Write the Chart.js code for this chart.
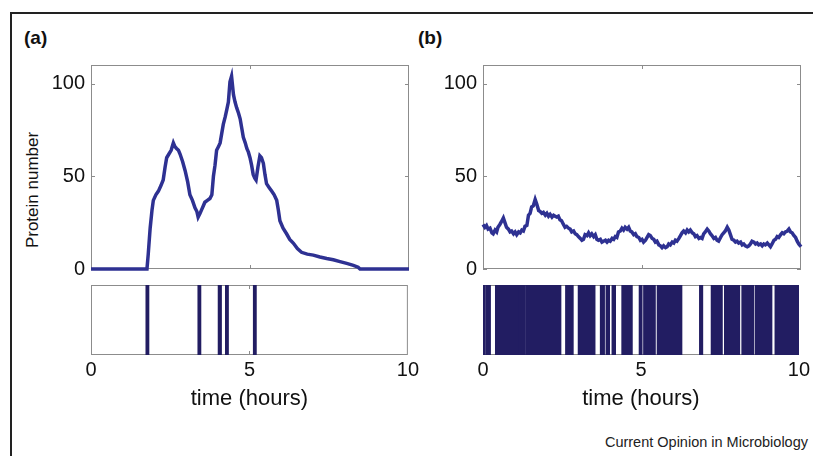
<!DOCTYPE html>
<html>
<head>
<meta charset="utf-8">
<script src="https://cdn.jsdelivr.net/npm/chart.js@4.4.1/dist/chart.umd.min.js"></script>
<style>
  html, body { margin: 0; overflow: hidden; }
  body { background: #fff; font-family: "Liberation Sans", Arial, sans-serif; color: #111; }
  #page { position: relative; width: 813px; height: 456px; overflow: hidden; }
  .rule { position: absolute; background: #222; }
  .panel { position: absolute; top: 27px; font-weight: bold; font-size: 19px; }
  #ylab { position: absolute; left: 33px; top: 190px; font-size: 17px; white-space: nowrap; transform: translate(-50%, -50%) rotate(-90deg); }
  #credit { position: absolute; right: 5px; top: 434px; font-size: 14.5px; color: #222; }
  canvas { position: absolute; }
</style>
</head>
<body>
<div id="page">
  <div class="rule" style="left:10px;top:12px;width:803px;height:1.5px"></div>
  <div class="rule" style="left:10px;top:12px;width:1.5px;height:444px"></div>
  <div class="panel" style="left:24px">(a)</div>
  <div class="panel" style="left:418px">(b)</div>
  <div id="ylab">Protein number</div>
  <canvas id="traceA" width="400" height="244" style="left:20px;top:45px"></canvas>
  <canvas id="traceB" width="400" height="244" style="left:412px;top:45px"></canvas>
  <canvas id="stripA" width="402" height="137" style="left:20px;top:275px"></canvas>
  <canvas id="stripB" width="401" height="137" style="left:412px;top:275px"></canvas>
  <div id="credit">Current Opinion in Microbiology</div>
</div>
<script>
// tick labels
const xTicks = [0, 5, 10];
const yTicks = [0, 50, 100];

// (a) bursty expression: protein number over time (hours)
const aTimes = [0, 1.76, 1.80, 1.86, 1.92, 1.96, 2.04, 2.12, 2.20, 2.27,
  2.33, 2.38, 2.45, 2.52, 2.59, 2.64, 2.69, 2.75, 2.80, 2.88,
  2.96, 3.04, 3.11, 3.19, 3.27, 3.33, 3.37, 3.43, 3.48, 3.53,
  3.58, 3.66, 3.74, 3.80, 3.85, 3.90, 3.95, 4.01, 4.06, 4.11,
  4.16, 4.22, 4.27, 4.32, 4.37, 4.42, 4.48, 4.53, 4.58, 4.64,
  4.69, 4.74, 4.79, 4.85, 4.90, 4.95, 5.00, 5.05, 5.10, 5.15,
  5.19, 5.25, 5.31, 5.36, 5.42, 5.47, 5.52, 5.60, 5.68, 5.76,
  5.84, 5.89, 5.94, 6.04, 6.15, 6.25, 6.36, 6.49, 6.62, 6.80,
  6.99, 7.20, 7.41, 7.62, 7.83, 8.04, 8.25, 8.40, 8.46, 10];
const aCounts = [0, 0, 8, 22, 32, 37, 40, 42, 45, 48,
  55, 60, 62, 64, 68, 66, 65, 64, 62, 58,
  53, 47, 40, 37, 33, 31, 28, 30, 32, 34,
  36, 37, 38, 40, 50, 56, 64, 66, 68, 73,
  78, 82, 86, 90, 101, 104, 94, 90, 87, 84,
  81, 76, 71, 68, 65, 63, 60, 56, 51, 49,
  48, 55, 61, 60, 57, 51, 46, 44, 42, 40,
  37, 32, 26, 22, 19, 16, 14, 11, 9, 8,
  7.5, 6.5, 5.7, 5, 4, 3, 2, 1, 0, 0];
// (a) promoter on-periods [start, end]
const aOnSpans = [[1.73, 1.83], [3.37, 3.47], [4.01, 4.12], [4.24, 4.34], [5.12, 5.22]];

// (b) frequent switching
const bTimes = [0, 0.06, 0.11, 0.16, 0.22, 0.28, 0.32, 0.38, 0.43, 0.47,
  0.53, 0.58, 0.64, 0.69, 0.74, 0.80, 0.85, 0.90, 0.96, 1.01,
  1.06, 1.12, 1.17, 1.22, 1.27, 1.32, 1.38, 1.43, 1.48, 1.53,
  1.58, 1.64, 1.69, 1.75, 1.80, 1.85, 1.90, 1.96, 2.01, 2.06,
  2.11, 2.17, 2.22, 2.27, 2.32, 2.37, 2.42, 2.47, 2.53, 2.58,
  2.63, 2.69, 2.74, 2.79, 2.85, 2.90, 2.95, 3.00, 3.06, 3.11,
  3.16, 3.21, 3.27, 3.32, 3.37, 3.42, 3.48, 3.53, 3.58, 3.63,
  3.69, 3.74, 3.79, 3.85, 3.90, 3.95, 4.00, 4.06, 4.11, 4.16,
  4.21, 4.26, 4.32, 4.37, 4.42, 4.47, 4.53, 4.58, 4.63, 4.68,
  4.74, 4.79, 4.84, 4.90, 4.95, 5.00, 5.05, 5.11, 5.16, 5.21,
  5.26, 5.32, 5.37, 5.42, 5.47, 5.53, 5.58, 5.63, 5.68, 5.74,
  5.79, 5.84, 5.89, 5.95, 6.00, 6.05, 6.10, 6.16, 6.21, 6.26,
  6.31, 6.37, 6.42, 6.47, 6.52, 6.58, 6.63, 6.68, 6.73, 6.79,
  6.84, 6.89, 6.94, 6.99, 7.05, 7.10, 7.15, 7.20, 7.26, 7.31,
  7.36, 7.41, 7.47, 7.52, 7.57, 7.62, 7.68, 7.73, 7.78, 7.83,
  7.89, 7.94, 7.99, 8.04, 8.10, 8.15, 8.20, 8.25, 8.31, 8.36,
  8.41, 8.46, 8.52, 8.57, 8.62, 8.67, 8.73, 8.78, 8.83, 8.88,
  8.94, 8.99, 9.04, 9.09, 9.15, 9.20, 9.25, 9.30, 9.36, 9.41,
  9.46, 9.51, 9.57, 9.62, 9.67, 9.72, 9.78, 9.83, 9.88, 9.93,
  10];
const bCounts = [24, 22.5, 23.5, 21.5, 22, 19.5, 19, 21, 20, 22.5,
  24, 25.5, 27.5, 25, 22.5, 21.5, 20, 20.5, 19, 20,
  18.5, 20, 19.5, 21, 20.5, 23, 23.5, 29, 30, 33.5,
  34, 37.5, 35, 31.5, 31, 30, 30.5, 29, 30, 28.5,
  29.5, 28, 29, 28.5, 28, 28.5, 26.5, 26, 24, 22.5,
  23, 22, 21.5, 20, 20.5, 19, 18.5, 17.5, 16.5, 15.5,
  16, 18.5, 18, 19.5, 18, 19, 17.5, 18.5, 16, 15.5,
  16, 14.5, 15, 15.5, 14.5, 15.5, 15, 16.5, 16, 17.5,
  17, 20, 20.5, 22, 21, 22.5, 21.5, 22.5, 20.5, 20,
  18.5, 19, 17.5, 17, 15.5, 16, 14.5, 15.5, 17, 18.5,
  18, 16.5, 16, 14.5, 15, 13, 12.5, 11.5, 12.5, 11.5,
  12, 13.5, 13, 14.5, 14, 15.5, 15, 16.5, 18, 19.5,
  20.5, 19.5, 21, 20, 21, 19.5, 19, 17.5, 18, 16.5,
  17, 16.5, 19, 20, 21.5, 20.5, 19, 18, 16.5, 17,
  15.5, 15, 17, 18.5, 19.5, 20.5, 22.5, 21, 18.5, 16,
  15.5, 14.5, 15, 14, 14.5, 13, 13.5, 12.5, 12, 12.5,
  13.5, 15, 14.5, 13.5, 14, 13, 13.5, 12.5, 13.5, 13,
  14, 13, 12, 13.5, 15.5, 16, 17.5, 17, 18.5, 19.5,
  19, 20, 20.5, 21.5, 20, 19.5, 18, 17, 15, 13.5,
  12];
const bOnSpans = [[0, 0.06], [0.08, 0.24], [0.39, 1.135], [1.145, 1.345], [1.355, 2.47],
  [2.61, 2.86], [3.01, 3.55], [3.71, 3.85], [3.89, 4.01], [4.08, 4.20],
  [4.39, 4.73], [4.94, 5.04], [5.08, 5.46], [5.51, 6.30], [6.85, 6.96],
  [7.22, 7.58], [7.64, 8.13], [8.19, 8.57], [8.61, 9.15], [9.24, 10]];

const lineColor = '#2e3192';
const stripColor = '#221d62';
const inkColor = '#111';

// matlab-like box with inward tick marks
const frameBox = {
    id: 'frameBox',
    beforeDatasetsDraw(chart, args, opts) {
        const { ctx, chartArea: a, scales } = chart;
        const len = 4;
        ctx.save();
        ctx.strokeStyle = '#8c8c8c';
        ctx.lineWidth = 1;
        ctx.strokeRect(a.left + 0.5, a.top + 0.5, a.right - a.left - 1, a.bottom - a.top - 1);
        ctx.beginPath();
        xTicks.slice(1, -1).forEach(v => {
            const px = Math.round(scales.x.getPixelForValue(v)) + 0.5;
            ctx.moveTo(px, a.top); ctx.lineTo(px, a.top + len);
            ctx.moveTo(px, a.bottom); ctx.lineTo(px, a.bottom - len);
        });
        if (opts.yTicks) {
            yTicks.forEach(v => {
                const py = Math.round(scales.y.getPixelForValue(v)) + 0.5;
                ctx.moveTo(a.left, py); ctx.lineTo(a.left + len, py);
                ctx.moveTo(a.right, py); ctx.lineTo(a.right - len, py);
            });
        }
        ctx.stroke();
        ctx.restore();
    }
};

function traceChart(id, times, counts) {
    return new Chart(document.getElementById(id), {
        type: 'line',
        data: {
            datasets: [{
                data: times.map((t, i) => ({ x: t, y: counts[i] })),
                borderColor: lineColor,
                borderWidth: 3.5,
                pointRadius: 0,
                tension: 0,
                clip: false
            }]
        },
        options: {
            responsive: false,
            animation: false,
            layout: { padding: { top: 20, right: 11, bottom: 20, left: 0 } },
            plugins: { legend: { display: false }, tooltip: { enabled: false }, frameBox: { yTicks: true } },
            scales: {
                x: { type: 'linear', min: 0, max: 10, display: false },
                y: {
                    min: 0, max: 110,
                    afterBuildTicks: s => { s.ticks = yTicks.map(v => ({ value: v })); },
                    afterFit: s => { s.width = 71; },
                    grid: { display: false, drawTicks: false },
                    border: { display: false },
                    ticks: { padding: 6, color: inkColor, font: { size: 20 } }
                }
            }
        },
        plugins: [frameBox]
    });
}

function stripChart(id, spans) {
    return new Chart(document.getElementById(id), {
        type: 'bar',
        data: {
            labels: ['on'],
            datasets: [{
                data: spans.map(s => ({ x: s, y: 'on' })),
                backgroundColor: stripColor,
                borderWidth: 0,
                barPercentage: 1,
                categoryPercentage: 1
            }]
        },
        options: {
            indexAxis: 'y',
            responsive: false,
            animation: false,
            layout: { padding: { top: 10, right: 13, bottom: 0, left: 71 } },
            plugins: { legend: { display: false }, tooltip: { enabled: false }, frameBox: { yTicks: false } },
            scales: {
                x: {
                    type: 'linear', min: 0, max: 10,
                    afterBuildTicks: s => { s.ticks = xTicks.map(v => ({ value: v })); },
                    afterFit: s => { s.height = 57; },
                    grid: { display: false, drawTicks: false },
                    border: { display: false },
                    ticks: { padding: 3, maxRotation: 0, color: inkColor, font: { size: 20 } },
                    title: { display: true, text: 'time (hours)', color: inkColor, font: { size: 22 }, padding: 0 }
                },
                y: { display: false }
            }
        },
        plugins: [frameBox]
    });
}

traceChart('traceA', aTimes, aCounts);
traceChart('traceB', bTimes, bCounts);
stripChart('stripA', aOnSpans);
stripChart('stripB', bOnSpans);
</script>
</body>
</html>
